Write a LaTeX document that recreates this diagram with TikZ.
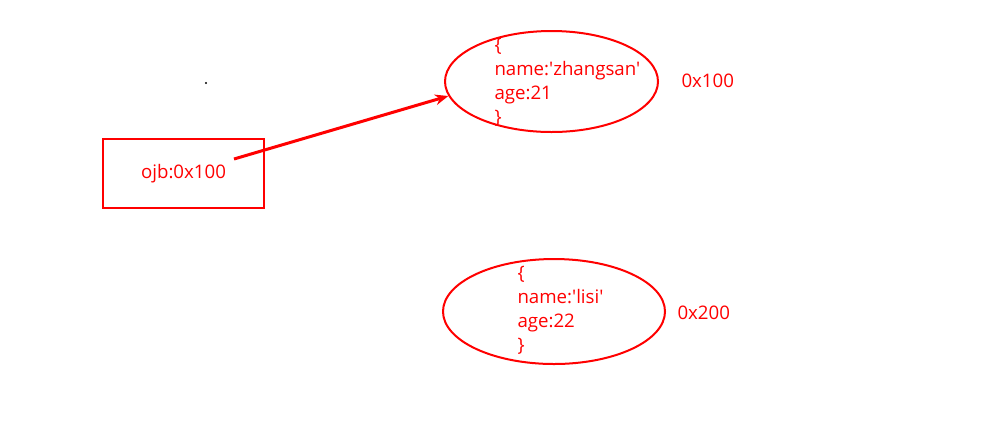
\documentclass[tikz,border=0pt]{standalone}
\usepackage{fontspec}
\setmainfont{Open Sans}[Ligatures=TeXOff]
\usetikzlibrary{shapes.geometric,arrows.meta}

\tikzset{every picture/.style={line width=0.75pt}}
\tikzset{
  redtext/.style={text=red,font=\fontsize{14}{18}\selectfont,inner sep=0pt},
  objellipse/.style={ellipse,draw=red,line width=1.5pt,inner sep=0pt},
}

\begin{document}
\begin{tikzpicture}[x=0.75pt,y=0.75pt,yscale=-1,xscale=1]
\useasboundingbox (0,0) rectangle (995,430);

%Shape: Rectangle [id:ptrbox]
\node [draw=red,line width=1.5pt,minimum width=120.75pt,minimum height=51.75pt,redtext] (ptrbox) at (183.5,173.5) {ojb:0x100};
%Shape: Ellipse [id:objA]
\node [objellipse,minimum width=159.75pt,minimum height=75.75pt] (objA) at (551.5,81.5) {};
%Shape: Ellipse [id:objB]
\node [objellipse,minimum width=166.5pt,minimum height=78.75pt] (objB) at (554,311.5) {};
%Shape: Dot
\fill (206,83) circle (1.2);

\coordinate (ptr) at (234,159);
%Straight Lines [id:pointer]
\draw [red,line width=2.25pt,-{Stealth[length=10pt,width=8pt]}] (ptr) -- (objA.188);

% Text Node
\node [redtext,anchor=west,align=left] (bodyA) at (494,82) {\{\\name:'zhangsan'\\age:21\\\}};
% Text Node
\node [redtext,anchor=west,align=left] (bodyB) at (517,310) {\{\\name:'lisi'\\age:22\\\}};
% Text Node
\node [redtext,anchor=west] (addrA) at (681,81) {0x100};
% Text Node
\node [redtext,anchor=west] (addrB) at (677,313) {0x200};

\end{tikzpicture}
\end{document}
